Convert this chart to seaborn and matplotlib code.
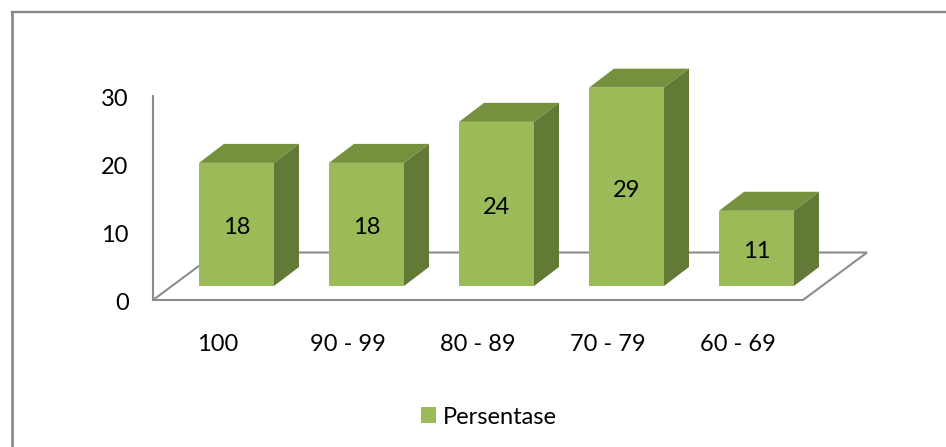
import matplotlib
matplotlib.use("Agg")
import matplotlib.pyplot as plt
from matplotlib.lines import Line2D
from matplotlib.patches import Polygon, Patch
from matplotlib.transforms import ScaledTranslation
import pandas as pd
import seaborn as sns

# Score bands and the share of respondents in each
CATEGORIES = ["100", "90 - 99", "80 - 89", "70 - 79", "60 - 69"]
VALUES = [18, 18, 24, 29, 11]
Y_TICKS = [0, 10, 20, 30]
SERIES_NAME = "Persentase"

W, H = 946, 447
FRONT = "#9BBB59"
TOP = "#76913E"
SIDE = "#627A36"
GREY = "#8C8C8C"
TEXT = "#000000"
FONT_SIZE = 17

sns.set_theme(style="white")
plt.rcParams["font.family"] = ["Lato", "DejaVu Sans"]
plt.rcParams["axes.unicode_minus"] = False


def px_axes(fig, left, top, right, bottom):
    """Axes placed by pixel edges measured from the top-left corner."""
    return fig.add_axes([left / W, 1 - bottom / H, (right - left) / W, (bottom - top) / H])


fig = plt.figure(figsize=(W / 100, H / 100), dpi=100, facecolor="white")

# Floor and back wall: value axis plus the perspective outline of the floor
ax_floor = px_axes(fig, 153, 96, 803, 300)
ax_floor.set_xlim(-0.5, len(CATEGORIES) - 0.5)
ax_floor.set_ylim(0, 30)
ax_floor.set_xticks(range(len(CATEGORIES)), CATEGORIES)
ax_floor.set_yticks(Y_TICKS)
ax_floor.tick_params(axis="x", length=0, pad=24.5, labelsize=FONT_SIZE, colors=TEXT)
ax_floor.tick_params(axis="y", length=0, pad=17.5, labelsize=FONT_SIZE, colors=TEXT)
for side in ("top", "right"):
    ax_floor.spines[side].set_visible(False)
for side in ("left", "bottom"):
    ax_floor.spines[side].set_color(GREY)
    ax_floor.spines[side].set_linewidth(1.5)

# Nudge the value labels down so they centre on the gridline positions
nudge = ScaledTranslation(0, -2 / 100, fig.dpi_scale_trans)
for label in ax_floor.get_yticklabels():
    label.set_transform(label.get_transform() + nudge)

floor_dx = 64 / 130
floor_dy = 47.5 / 6.8
x_lo, x_hi = ax_floor.get_xlim()
ax_floor.add_line(Line2D([x_lo, x_lo + floor_dx, x_hi + floor_dx, x_hi],
                         [0, floor_dy, floor_dy, 0],
                         color=GREY, lw=1.5, clip_on=False, solid_joinstyle="miter"))

# Bars sit on the floor, shifted in from its front edge
ax_bars = px_axes(fig, 171.5, 80.8, 821.5, 286)
df = pd.DataFrame({"Nilai": CATEGORIES, SERIES_NAME: VALUES})
sns.barplot(data=df, x="Nilai", y=SERIES_NAME, color=FRONT, saturation=1,
            width=75 / 130, ax=ax_bars, linewidth=0, zorder=3)
ax_bars.set_xlim(-0.5, len(CATEGORIES) - 0.5)
ax_bars.set_ylim(0, 30)
ax_bars.set_axis_off()

# Extrude each front face into a box: one top face and one side face
depth_x = 25 / 130
depth_y = 19 / (205.2 / 30)
for bar in ax_bars.containers[0]:
    x0, x1 = bar.get_x(), bar.get_x() + bar.get_width()
    y1 = bar.get_height()
    ax_bars.add_patch(Polygon([(x0, y1), (x1, y1), (x1 + depth_x, y1 + depth_y), (x0 + depth_x, y1 + depth_y)],
                              closed=True, facecolor=TOP, edgecolor="none", clip_on=False, zorder=2))
    ax_bars.add_patch(Polygon([(x1, 0), (x1 + depth_x, depth_y), (x1 + depth_x, y1 + depth_y), (x1, y1)],
                              closed=True, facecolor=SIDE, edgecolor="none", clip_on=False, zorder=2))

ax_bars.bar_label(ax_bars.containers[0], labels=[str(v) for v in VALUES],
                  label_type="center", fontsize=FONT_SIZE, color=TEXT, padding=-2.5)

# Legend below the plot
fig.legend(handles=[Patch(facecolor=FRONT, edgecolor="none", label=SERIES_NAME)],
           loc="center", bbox_to_anchor=(489 / W, 1 - 417 / H), frameon=False,
           fontsize=FONT_SIZE, handlelength=0.64, handleheight=0.64, handletextpad=0.32,
           labelcolor=TEXT)

# Chart frame: only the top and left edges fall inside the image
fig.add_artist(Line2D([12 / W, 12 / W], [0, 1 - 12 / H], color="#868686", lw=1.9, solid_capstyle="projecting"))
fig.add_artist(Line2D([12 / W, 1], [1 - 12 / H, 1 - 12 / H], color="#868686", lw=1.7, solid_capstyle="projecting"))

fig.savefig("out.png", dpi=100, facecolor="white")
